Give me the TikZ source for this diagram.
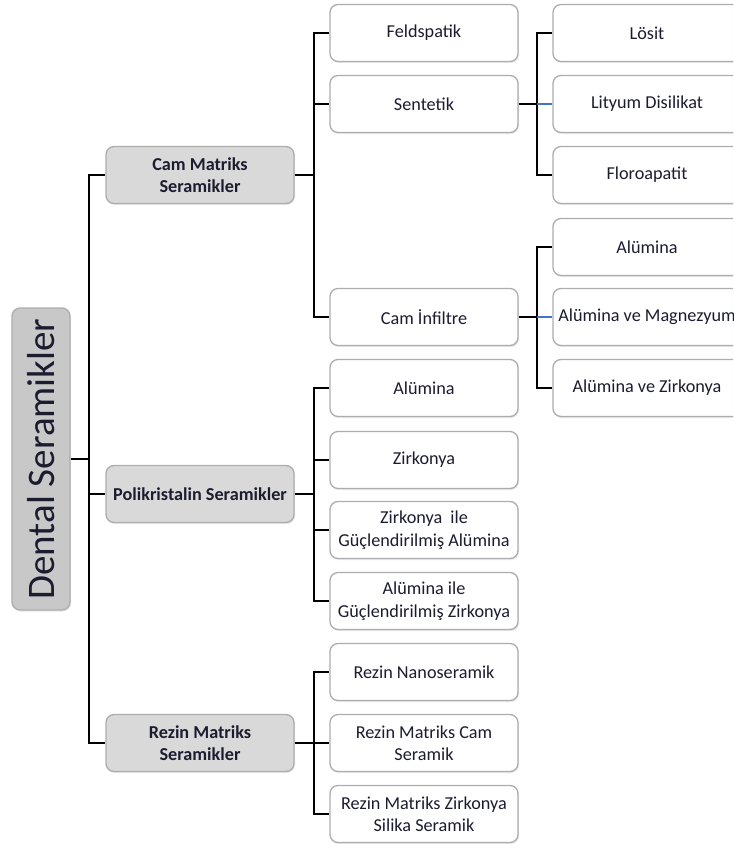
\documentclass[tikz,border=0pt]{standalone}
\usepackage{fontspec}
\setmainfont{Carlito}
\usetikzlibrary{shadows}
\definecolor{txt}{HTML}{1C1C30}
\definecolor{bord}{HTML}{ADADAD}
\definecolor{rootfill}{HTML}{C8C8C8}
\definecolor{lonefill}{HTML}{D9D9D9}
\definecolor{blueln}{HTML}{4472C4}
\tikzset{
  box/.style={draw=bord, line width=1.3pt, rounded corners=8pt, fill=white,
    text=txt, align=center, inner sep=0pt, minimum width=188pt, minimum height=57pt,
    font=\fontsize{18.2}{22.5}\selectfont,
    drop shadow={shadow xshift=1pt, shadow yshift=-1.5pt, fill=black!18}},
  lone/.style={box, fill=lonefill, font=\fontsize{18.2}{21.5}\selectfont\bfseries},
  rootbox/.style={box, fill=rootfill, minimum width=302pt, minimum height=58pt,
    rotate=90, font=\fontsize{39}{42}\selectfont},
  conn/.style={line width=2pt, black},
  bconn/.style={line width=2pt, blueln}
}
\begin{document}
\begin{tikzpicture}[x=1pt,y=-1pt]
\useasboundingbox (0,0) rectangle (733,848);
\begin{scope}
\clip (0,0) rectangle (733,848);
% root
\node[rootbox] (root) at (41,459) {Dental Seramikler};
% level 1
\node[lone] (cam) at (200,175) {Cam Matriks\\Seramikler};
\node[lone] (poly) at (200,494) {Polikristalin Seramikler};
\node[lone] (rez) at (200,743) {Rezin Matriks\\Seramikler};
% level 2 - cam
\node[box] (feld) at (424,33) {Feldspatik};
\node[box] (sent) at (424,104) {Sentetik};
\node[box] (inf) at (424,317) {Cam İnfiltre};
% level 2 - poly
\node[box] (palu) at (424,388) {Alümina};
\node[box] (pzir) at (424,460) {Zirkonya};
\node[box] (pzga) at (424,530) {Zirkonya\ \ ile\\Güçlendirilmiş Alümina};
\node[box] (pagz) at (424,601) {Alümina ile\\Güçlendirilmiş Zirkonya};
% level 2 - rezin
\node[box] (rnano) at (424,672) {Rezin Nanoseramik};
\node[box] (rcam) at (424,743) {Rezin Matriks Cam\\Seramik};
\node[box] (rzir) at (424,814) {Rezin Matriks Zirkonya\\Silika Seramik};
% level 3
\node[box] (losit) at (647,33) {Lösit};
\node[box] (lit) at (647,104) {Lityum Disilikat};
\node[box] (flor) at (647,175) {Floroapatit};
\node[box] (ialu) at (647,247) {Alümina};
\node[box] (imag) at (647,317) {Alümina ve Magnezyum};
\node[box] (izir) at (647,388) {Alümina ve Zirkonya};
\end{scope}
% connectors root
\draw[conn] (root.south) -- ++(18,0) coordinate (t0);
\draw[conn] (t0) |- (cam.west);
\draw[conn] (t0) |- (rez.west);
\draw[conn] (t0) |- (poly.west);
% cam
\draw[conn] (cam.east) -- ++(19,0) coordinate (t1);
\draw[conn] (t1) |- (feld.west);
\draw[conn] (t1) |- (sent.west);
\draw[conn] (t1) |- (inf.west);
% poly
\draw[conn] (poly.east) -- ++(19,0) coordinate (t2);
\draw[conn] (t2) |- (palu.west);
\draw[conn] (t2) |- (pzir.west);
\draw[conn] (t2) |- (pzga.west);
\draw[conn] (t2) |- (pagz.west);
% rezin
\draw[conn] (rez.east) -- ++(19,0) coordinate (t3);
\draw[conn] (t3) |- (rnano.west);
\draw[conn] (t3) |- (rcam.west);
\draw[conn] (t3) |- (rzir.west);
% sentetik
\draw[conn] (sent.east) -- ++(18,0) coordinate (t4);
\draw[conn] (t4) |- (losit.west);
\draw[conn] (t4) |- (flor.west);
\draw[bconn] (t4) -- (lit.west);
% infiltre
\draw[conn] (inf.east) -- ++(18,0) coordinate (t5);
\draw[conn] (t5) |- (ialu.west);
\draw[conn] (t5) |- (izir.west);
\draw[bconn] (t5) -- (imag.west);
\end{tikzpicture}
\end{document}
